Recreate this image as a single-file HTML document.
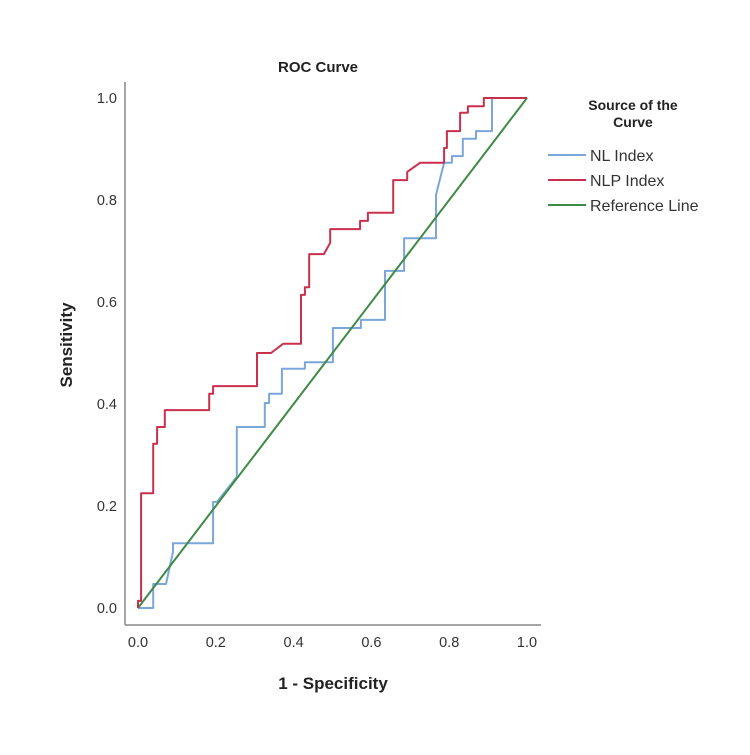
<!DOCTYPE html>
<html><head><meta charset="utf-8"><style>
body{margin:0;background:#fff;}
svg text{font-family:"Liberation Sans",Arial,sans-serif;}
</style></head><body>
<svg width="750" height="750" viewBox="0 0 750 750">
<rect width="750" height="750" fill="#fff"/>
<text x="318" y="72" font-size="15" font-weight="bold" text-anchor="middle" fill="#222">ROC Curve</text>
<g id="axes"></g>
<g id="series"></g>
<text x="333" y="689" font-size="17" font-weight="bold" text-anchor="middle" fill="#222">1 - Specificity</text>
<text x="0" y="0" transform="translate(72,345) rotate(-90)" font-size="17" font-weight="bold" text-anchor="middle" fill="#222">Sensitivity</text>
<g>
<text x="633" y="110" font-size="14" font-weight="bold" text-anchor="middle" fill="#222">Source of the</text>
<text x="633" y="127" font-size="14" font-weight="bold" text-anchor="middle" fill="#222">Curve</text>
<g><line x1="548" y1="155" x2="586" y2="155" stroke="#7aa6da" stroke-width="2"/><text x="590" y="161" font-size="16" fill="#333">NL Index</text></g>
<g><line x1="548" y1="180" x2="586" y2="180" stroke="#c8304e" stroke-width="2"/><text x="590" y="186" font-size="16" fill="#333">NLP Index</text></g>
<g><line x1="548" y1="205" x2="586" y2="205" stroke="#3f8a44" stroke-width="2"/><text x="590" y="211" font-size="16" fill="#333">Reference Line</text></g>
</g>
</svg>
<script>
const xTicks=[0,0.2,0.4,0.6,0.8,1.0];
const yTicks=[0,0.2,0.4,0.6,0.8,1.0];
const tickLabels=["0.0","0.2","0.4","0.6","0.8","1.0"];
const nlX=[0,0.039,0.039,0.072,0.090,0.090,0.193,0.193,0.203,0.254,0.254,0.326,0.326,0.337,0.337,0.370,0.370,0.429,0.429,0.501,0.501,0.573,0.573,0.635,0.635,0.684,0.684,0.766,0.766,0.787,0.807,0.807,0.835,0.835,0.869,0.869,0.910,0.910,1];
const nlY=[0,0,0.047,0.047,0.110,0.127,0.127,0.208,0.208,0.257,0.355,0.355,0.402,0.402,0.420,0.420,0.469,0.469,0.482,0.482,0.549,0.549,0.565,0.565,0.661,0.661,0.725,0.725,0.810,0.873,0.873,0.886,0.886,0.920,0.920,0.935,0.935,1.0,1];
const nlpX=[0,0,0.008,0.008,0.039,0.039,0.049,0.049,0.069,0.069,0.183,0.183,0.193,0.193,0.306,0.306,0.342,0.373,0.419,0.419,0.429,0.429,0.440,0.440,0.478,0.494,0.494,0.571,0.571,0.591,0.591,0.656,0.656,0.692,0.692,0.725,0.787,0.787,0.794,0.794,0.828,0.828,0.848,0.848,0.889,0.889,1];
const nlpY=[0,0.014,0.014,0.225,0.225,0.322,0.322,0.355,0.355,0.388,0.388,0.420,0.420,0.435,0.435,0.5,0.5,0.518,0.518,0.614,0.614,0.629,0.629,0.694,0.694,0.716,0.743,0.743,0.759,0.759,0.775,0.775,0.839,0.839,0.855,0.873,0.873,0.902,0.902,0.935,0.935,0.971,0.971,0.984,0.984,1.0,1];
const refX=[0,1];
const refY=[0,1];
const NS="http://www.w3.org/2000/svg";
const sx=v=>138+v*389;
const sy=v=>608-v*510;
const axes=document.getElementById('axes');
const series=document.getElementById('series');
function mk(tag,attrs,parent){const e=document.createElementNS(NS,tag);for(const k in attrs)e.setAttribute(k,attrs[k]);parent.appendChild(e);return e;}
let a=mk('line',{x1:125,y1:82,x2:125,y2:625,stroke:'#888','stroke-width':1.5},axes);


a=mk('line',{x1:125,y1:625,x2:541,y2:625,stroke:'#888','stroke-width':1.5},axes);


xTicks.forEach((v,i)=>{const t=mk('text',{x:sx(v),y:647,'font-size':14.5,'text-anchor':'middle',fill:'#333'},axes);t.textContent=tickLabels[i];

});
yTicks.forEach((v,i)=>{const t=mk('text',{x:117,y:sy(v)+5,'font-size':14.5,'text-anchor':'end',fill:'#333'},axes);t.textContent=tickLabels[i];

});
function line(xs,ys,color,name){const p=xs.map((x,i)=>sx(x).toFixed(1)+','+sy(ys[i]).toFixed(1)).join(' ');
const e=mk('polyline',{points:p,fill:'none',stroke:color,'stroke-width':2,'stroke-linejoin':'round'},series);

}
line(nlX,nlY,'#7aa6da','nl-index-curve');
line(refX,refY,'#3f8a44','reference-line');
line(nlpX,nlpY,'#c8304e','nlp-index-curve');
</script>
</body></html>
